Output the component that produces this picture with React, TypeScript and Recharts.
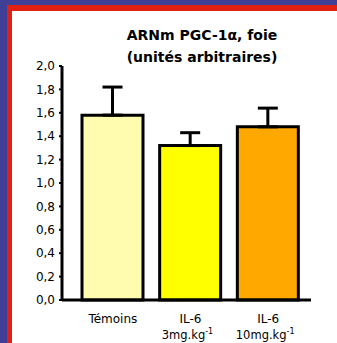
import { BarChart, Bar, XAxis, YAxis, ErrorBar } from "recharts";

const groups = ["Témoins", "IL-6 3", "IL-6 10"];
const labelTop = ["Témoins", "IL-6", "IL-6"];
const labelBottom = ["", "3mg.kg", "10mg.kg"];
const means = [1.58, 1.32, 1.48];
const sems = [0.24, 0.11, 0.16];
const fills = ["#FFFCB0", "#FFFF00", "#FFA800"];
const yTicks = [0, 0.2, 0.4, 0.6, 0.8, 1.0, 1.2, 1.4, 1.6, 1.8, 2.0];

const data = groups.map((g, i) => ({
  name: g,
  value: means[i],
  err: [0, sems[i]],
  fill: fills[i],
}));

const font = "'DejaVu Sans', sans-serif";

function XTick(props: any) {
  const { x, y, index } = props;
  return (
    <g transform={`translate(${x},${y})`}>
      <text x={0} y={15} textAnchor="middle" fontSize={12} fontFamily={font} fill="#000">
        {labelTop[index]}
      </text>
      {labelBottom[index] && (
        <text x={-3} y={31} textAnchor="middle" fontSize={11.5} fontFamily={font} fill="#000">
          {labelBottom[index]}
          <tspan dy={-5} fontSize={8}>-1</tspan>
        </text>
      )}
    </g>
  );
}

function App() {
  return (
    <div style={{ position: "absolute", left: 0, top: 0, width: 337, height: 343, background: "#3F3F98", overflow: "hidden" }}>
      <div style={{ position: "absolute", left: 7, top: 5, width: 330, height: 338, background: "#E02010" }} />
      <div style={{ position: "absolute", left: 12, top: 11, width: 325, height: 332, background: "#fff" }} />
      <div
        style={{
          position: "absolute",
          left: 62,
          width: 280,
          top: 24,
          textAlign: "center",
          fontFamily: font,
          fontWeight: "bold",
          fontSize: 14,
          lineHeight: "22px",
          color: "#000",
        }}
      >
        <div>ARNm PGC-1α, foie</div>
        <div>(unités arbitraires)</div>
      </div>
      <div style={{ position: "absolute", left: 0, top: 0 }}>
        <BarChart width={337} height={343} data={data} margin={{ top: 66, right: 26, bottom: 0, left: 0 }}>
          <XAxis
            dataKey="name"
            height={43}
            padding={{ left: 12, right: 4 }}
            axisLine={{ stroke: "#000", strokeWidth: 3 }}
            tickLine={false}
            tick={<XTick />}
            interval={0}
          />
          <YAxis
            width={62}
            domain={[0, 2]}
            ticks={yTicks}
            tickFormatter={(v: number) => v.toFixed(1).replace(".", ",")}
            axisLine={{ stroke: "#000", strokeWidth: 3 }}
            tickLine={{ stroke: "#000", strokeWidth: 2 }}
            tickSize={3}
            tickMargin={4}
            tick={{ fontSize: 12, fontFamily: font, fill: "#000" }}
            interval={0}
          />
          <Bar dataKey="value" barSize={61} stroke="#000" strokeWidth={3} isAnimationActive={false}>
            <ErrorBar dataKey="err" width={10} stroke="#000" strokeWidth={3} />
          </Bar>
        </BarChart>
      </div>
    </div>
  );
}

export default App;
